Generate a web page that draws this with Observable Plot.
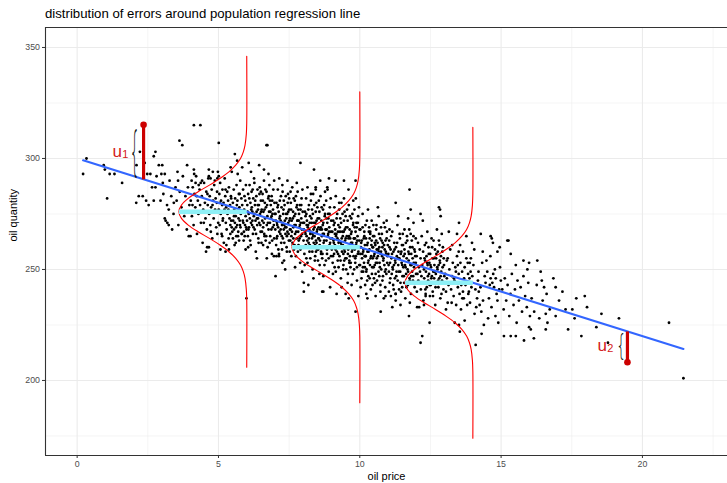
<!DOCTYPE html>
<html><head><meta charset="utf-8">
<script src="https://cdn.jsdelivr.net/npm/d3@7"></script>
<script src="https://cdn.jsdelivr.net/npm/@observablehq/plot@0.6"></script>
<style>
html,body{margin:0;padding:0;background:#fff;}
#wrap{position:relative;width:727px;height:483px;overflow:hidden;background:#fff;font-family:"Liberation Sans",Arial,Helvetica,sans-serif;}
#title{position:absolute;left:45px;top:0;line-height:27px;font-size:13.2px;color:#000;white-space:nowrap;z-index:2;}
#chart{position:absolute;left:0;top:20px;z-index:1;}
</style></head><body>
<div id="wrap"><div id="title">distribution of errors around population regression line</div><div id="chart"></div></div>
<script>
// ---- data ----
const xTicks = [0, 5, 10, 15, 20];
const yTicks = [200, 250, 300, 350];
const xMinor = [2.5, 7.5, 12.5, 17.5, 22.5];
const yMinor = [175, 225, 275, 325];
const xDomain = [-1.12, 23.01];
const yDomain = [166.2, 359.0];

// population regression line (end points)
const lineX = [0.21, 21.45];
const lineY = [299.2, 214.2];

// error distributions drawn at three prices
const curveX = [6, 10, 14];
const curveMean = [276, 260, 244];
const cyanFrom = [3.6, 7.6, 11.6];
const curveDy = [-70,-40,-35,-30,-27,-24,-21,-18,-15,-12,-9,-6,-3,0,3,6,9,12,15,18,21,24,27,30,35,40,70];
const curveDx = [0,0,0.015,0.06,0.12,0.22,0.39,0.63,0.95,1.32,1.72,2.07,2.31,2.40,2.31,2.07,1.72,1.32,0.95,0.63,0.39,0.22,0.12,0.06,0.015,0,0];

// highlighted errors u1, u2
const residX = [2.35, 19.47];
const fittedY = [290.6, 222.1];
const obsY = [315.2, 208.2];
const braceX = [2.03, 19.24];
const braceY = [302.9, 215.3];
const braceScale = [3.2, 1.75];
const labelX = [1.42, 18.58];
const labelY = [303.2, 215.9];
const subX = [1.70, 18.86];
const subY = [301.8, 214.3];
const subText = ["1", "2"];

// sample (oil price, oil quantity)
const sampleEdge = [[0.33,300],[0.21,293],[0.94,297],[0.98,295],[1.15,293],[1.32,293],[1.59,289],[1.06,282],[2.09,280],[2.18,283],[2.32,283],[2.44,281],[2.53,279],[2.71,281],[2.95,281],[2.22,303],[2.10,297],[2.39,298],[2.77,303],[2.71,301],[2.89,297],[3.01,297],[2.48,293],[2.59,293],[2.98,293],[3.10,293],[2.81,292],[2.65,287],[2.77,287],[3.03,289],[3.42,280],[3.24,277],[3.10,273],[3.13,272],[3.24,270],[3.19,271],[3.36,268],[4.13,315],[4.36,315],[3.62,308],[3.72,306],[5.01,307],[6.73,306],[5.58,302],[5.66,299],[3.89,297],[4.13,295],[4.66,295],[4.80,294],[4.98,294],[5.43,296],[5.84,296],[6.07,298],[7.90,298],[3.57,290],[4.05,290],[4.19,289],[4.30,288],[4.42,290],[4.66,292],[4.72,291],[4.96,291],[5.01,292],[3.95,265],[4.60,260],[4.01,265],[4.66,260],[5.07,259],[5.25,258],[5.37,259],[5.99,237],[5.96,259],[7.02,247],[7.26,253],[7.14,256],[6.96,256],[7.96,249],[8.02,244],[8.02,240],[4.96,266],[5.13,265],[8.38,295],[8.91,291],[9.14,290],[9.44,290],[9.85,290],[8.44,287],[8.85,287],[11.76,286],[11.27,280],[11.80,277],[12.15,275],[12.23,272],[8.67,240],[9.50,239],[9.61,237],[9.85,231],[10.27,237],[10.74,231],[10.91,238],[11.03,240],[11.27,239],[11.74,229],[12.03,233],[12.27,234],[12.33,238],[12.47,226],[12.21,220],[12.15,217],[14.10,216],[12.84,277],[13.51,271],[14.28,266],[6.70,306],[6.61,295],[8.71,240],[12.80,278],[12.86,274],[14.67,264],[14.71,262],[15.26,263],[15.34,257],[14.95,260],[14.87,258],[15.79,254],[15.99,253],[16.28,254],[15.93,250],[16.44,245],[16.52,242],[16.93,242],[17.17,240],[16.58,230],[16.64,226],[16.58,223],[16.02,229],[16.05,223],[16.16,219],[15.81,218],[15.10,220],[15.34,220],[14.31,221],[17.37,223],[17.52,232],[17.66,237],[17.96,238],[18.04,233],[17.84,220],[18.37,224],[18.55,230],[19.17,228],[18.78,217],[20.94,226],[21.45,201],[17.28,232],[13.54,222],[13.51,225],[15.52,220],[15.99,224],[14.63,265],[15.22,263]];

const sampleLeft = [[3.05,284],[3.18,279],[3.27,290],[3.33,283],[3.41,275],[3.48,287],[3.52,281],[3.58,270],[3.63,285],[3.69,278],[3.74,292],[3.79,274],[3.83,283],[3.88,268],[3.92,287],[3.97,279],[3.55,294],[3.86,276],
[4.02,281],[4.06,274],[4.09,287],[4.12,270],[4.15,284],[4.18,278],[4.21,292],[4.24,266],[4.27,281],[4.29,275],[4.33,286],[4.35,279],[4.38,271],[4.41,283],[4.44,262],[4.46,277],[4.49,289],[4.52,280],[4.54,273],[4.57,285],[4.59,268],[4.62,279],[4.64,291],[4.67,275],[4.69,283],[4.71,270],[4.74,278],[4.76,286],[4.78,264],[4.81,281],[4.83,273],[4.85,288],[4.88,277],[4.90,282],[4.92,269],[4.95,285],[4.97,276],[4.99,271],[4.08,279],[4.23,283],[4.37,289],[4.48,271],[4.61,284],[4.73,267],[4.87,290],[4.94,280],[4.31,276],[4.56,258],[4.79,279],[4.14,293],
[5.01,277],[5.03,284],[5.04,270],[5.06,289],[5.08,275],[5.09,281],[5.11,266],[5.13,279],[5.14,286],[5.16,273],[5.18,280],[5.19,262],[5.21,277],[5.22,291],[5.24,283],[5.26,271],[5.27,278],[5.29,268],[5.31,285],[5.32,275],[5.34,281],[5.36,264],[5.37,287],[5.39,273],[5.41,279],[5.42,270],[5.44,283],[5.46,276],[5.47,294],[5.49,267],[5.51,280],[5.52,272],[5.54,286],[5.56,277],[5.57,261],[5.59,282],[5.61,274],[5.62,269],[5.64,288],[5.66,276],[5.67,281],[5.69,265],[5.71,273],[5.72,284],[5.74,278],[5.76,270],[5.77,290],[5.79,275],[5.81,282],[5.82,266],[5.84,279],[5.86,272],[5.87,286],[5.89,263],[5.91,277],[5.92,283],[5.94,270],[5.96,274],[5.97,288],[5.99,268],
[5.42,266],[5.47,269],[5.51,264],[5.55,268],[5.58,271],[5.63,265],[5.66,270],[5.70,267],[5.73,263],[5.78,269],[5.83,266],[5.88,271],[5.93,265],[5.98,269],[5.45,272],[5.61,262],[5.75,272],[5.90,267],
[5.05,280],[5.15,272],[5.25,286],[5.35,277],[5.45,282],[5.55,274],[5.65,279],[5.75,284],[5.85,276],[5.95,281],[5.28,261],[5.68,293]];

const sampleMid = [[6.01,272],[6.02,279],[6.04,265],[6.05,284],[6.07,275],[6.08,269],[6.10,288],[6.11,273],[6.13,280],[6.14,261],[6.16,277],[6.17,285],[6.19,270],[6.20,276],[6.22,266],[6.23,282],[6.25,274],[6.26,291],[6.28,268],[6.29,279],[6.31,272],[6.32,258],[6.34,283],[6.35,276],[6.37,270],[6.38,286],[6.40,273],[6.41,264],[6.43,279],[6.44,271],[6.46,287],[6.47,275],[6.49,267],[6.50,281],[6.52,262],[6.53,277],[6.55,272],[6.56,284],[6.58,269],[6.59,276],[6.61,290],[6.62,266],[6.64,280],[6.65,273],[6.67,263],[6.68,278],[6.70,285],[6.71,270],[6.73,274],[6.74,260],[6.76,282],[6.77,268],[6.79,276],[6.80,288],[6.82,271],[6.83,265],[6.85,279],[6.86,273],[6.88,283],[6.89,257],[6.91,275],[6.92,269],[6.94,286],[6.95,272],[6.97,264],[6.98,280],
[6.03,276],[6.06,268],[6.09,282],[6.12,263],[6.15,271],[6.18,278],[6.21,286],[6.24,269],[6.27,275],[6.30,281],[6.33,266],[6.36,273],[6.39,279],[6.42,262],[6.45,284],[6.48,270],[6.51,276],[6.54,267],[6.57,281],[6.60,271],[6.63,277],[6.66,286],[6.69,265],[6.72,279],[6.75,271],[6.78,283],[6.81,262],[6.84,276],[6.87,268],[6.90,281],[6.93,277],[6.96,270],[6.99,275],[6.15,294],[6.44,297],[6.36,255],[6.58,261],[6.77,293],[6.90,263],[6.05,260],[6.27,289],[6.50,285],[6.71,255],[6.82,281],[6.97,290],[6.20,272],[6.63,265],[6.40,277],[6.88,274],
[7.01,268],[7.02,275],[7.04,261],[7.05,280],[7.07,271],[7.08,265],[7.10,286],[7.11,269],[7.13,276],[7.14,257],[7.16,273],[7.17,281],[7.19,266],[7.20,272],[7.22,262],[7.23,278],[7.25,270],[7.26,288],[7.28,264],[7.29,275],[7.31,268],[7.32,254],[7.34,279],[7.35,272],[7.37,266],[7.38,283],[7.40,269],[7.41,260],[7.43,275],[7.44,267],[7.46,284],[7.47,271],[7.49,263],[7.50,277],[7.52,258],[7.53,273],[7.55,268],[7.56,280],[7.58,265],[7.59,272],[7.61,287],[7.62,262],[7.64,276],[7.65,269],[7.67,259],[7.68,274],[7.70,281],[7.71,266],[7.73,270],[7.74,256],[7.76,278],[7.77,264],[7.79,272],[7.80,285],[7.82,267],[7.83,261],[7.85,275],[7.86,269],[7.88,279],[7.89,253],[7.91,271],[7.92,265],[7.94,282],[7.95,268],[7.97,260],[7.98,276],
[7.03,272],[7.06,264],[7.09,278],[7.12,259],[7.15,267],[7.18,274],[7.21,283],[7.24,265],[7.27,271],[7.30,277],[7.33,262],[7.36,269],[7.39,275],[7.42,258],[7.45,280],[7.48,266],[7.51,272],[7.54,263],[7.57,277],[7.60,267],[7.63,273],[7.66,282],[7.69,261],[7.72,275],[7.75,267],[7.78,279],[7.81,258],[7.84,272],[7.87,264],[7.90,277],[7.93,273],[7.96,266],[7.99,271],[7.15,291],[7.44,290],[7.36,250],[7.58,256],[7.77,289],[7.90,259],[7.05,256],[7.27,285],[7.50,282],[7.71,251],[7.82,277],[7.97,286],[7.20,268],[7.63,261],[7.40,273],[7.88,270],[7.11,279],[7.33,270],[7.55,285],[7.69,270],[7.84,263],[7.25,259],[7.47,276],[7.65,264],[7.93,279],[7.08,270],[7.53,268],[7.80,272],[7.31,281],[7.74,283],[7.42,265]];

const sampleCenter = [[8.01,263],[8.03,271],[8.04,257],[8.06,276],[8.07,267],[8.09,261],[8.10,282],[8.12,265],[8.13,272],[8.15,253],[8.16,269],[8.18,277],[8.19,262],[8.21,268],[8.22,258],[8.24,274],[8.25,266],[8.27,284],[8.28,260],[8.30,271],[8.31,264],[8.33,250],[8.34,275],[8.36,268],[8.37,262],[8.39,279],[8.40,265],[8.42,256],[8.43,271],[8.45,263],[8.46,280],[8.48,267],[8.49,259],[8.51,273],[8.52,254],[8.54,269],[8.55,264],[8.57,276],[8.58,261],[8.60,268],[8.61,283],[8.63,258],[8.64,272],[8.66,265],[8.67,255],[8.69,270],[8.70,277],[8.72,262],[8.73,266],[8.75,252],[8.76,274],[8.78,260],[8.79,268],[8.81,281],[8.82,263],[8.84,257],[8.85,271],[8.87,265],[8.88,275],[8.90,249],[8.91,267],[8.93,261],[8.94,278],[8.96,264],[8.98,256],[8.99,272],
[8.02,268],[8.05,260],[8.08,274],[8.11,255],[8.14,263],[8.17,270],[8.20,279],[8.23,261],[8.26,267],[8.29,273],[8.32,258],[8.35,265],[8.38,271],[8.41,254],[8.44,276],[8.47,262],[8.50,268],[8.53,259],[8.56,273],[8.59,263],[8.62,269],[8.65,278],[8.68,257],[8.71,271],[8.74,263],[8.77,275],[8.80,254],[8.83,268],[8.86,260],[8.89,273],[8.92,269],[8.95,262],[8.98,267],[8.15,287],[8.44,286],[8.36,246],[8.58,252],[8.77,285],[8.90,255],[8.05,252],[8.27,281],[8.50,278],[8.71,247],[8.82,273],[8.97,282],[8.20,264],[8.63,257],[8.40,269],[8.88,266],[8.11,275],[8.33,266],[8.55,281],[8.69,266],[8.84,259],[8.25,255],[8.47,272],[8.65,260],[8.93,275],[8.08,266],[8.53,264],[8.80,268],[8.31,277],[8.74,279],[8.42,261],[8.18,243],[8.60,290],[8.95,242],[8.35,284],[8.86,286],[8.57,248],[8.12,270],[8.66,268],[8.45,258],[8.23,271],
[9.01,259],[9.03,267],[9.04,253],[9.06,272],[9.07,263],[9.09,257],[9.10,278],[9.12,261],[9.13,268],[9.15,249],[9.16,265],[9.18,273],[9.19,258],[9.21,264],[9.22,254],[9.24,270],[9.25,262],[9.27,280],[9.28,256],[9.30,267],[9.31,260],[9.33,246],[9.34,271],[9.36,264],[9.37,258],[9.39,275],[9.40,261],[9.42,252],[9.43,267],[9.45,259],[9.46,276],[9.48,263],[9.49,255],[9.51,269],[9.52,250],[9.54,265],[9.55,260],[9.57,272],[9.58,257],[9.60,264],[9.61,279],[9.63,254],[9.64,268],[9.66,261],[9.67,251],[9.69,266],[9.70,273],[9.72,258],[9.73,262],[9.75,248],[9.76,270],[9.78,256],[9.79,264],[9.81,277],[9.82,259],[9.84,253],[9.85,267],[9.87,261],[9.88,271],[9.90,245],[9.91,263],[9.93,257],[9.94,274],[9.96,260],[9.98,252],[9.99,268],
[9.02,264],[9.05,256],[9.08,270],[9.11,251],[9.14,259],[9.17,266],[9.20,275],[9.23,257],[9.26,263],[9.29,269],[9.32,254],[9.35,261],[9.38,267],[9.41,250],[9.44,272],[9.47,258],[9.50,264],[9.53,255],[9.56,269],[9.59,259],[9.62,265],[9.65,274],[9.68,253],[9.71,267],[9.74,259],[9.77,271],[9.80,250],[9.83,264],[9.86,256],[9.89,269],[9.92,265],[9.95,258],[9.98,263],[9.15,283],[9.44,282],[9.36,242],[9.58,248],[9.77,281],[9.90,251],[9.05,248],[9.27,277],[9.50,274],[9.71,243],[9.82,269],[9.97,278],[9.20,260],[9.63,253],[9.40,265],[9.88,262],[9.11,271],[9.33,262],[9.55,277],[9.69,262],[9.84,255],[9.25,251],[9.47,268],[9.65,256],[9.93,271],[9.08,262],[9.53,260],[9.80,264],[9.31,273],[9.74,275],[9.42,257],[9.18,239],[9.60,286],[9.95,238],[9.35,280],[9.86,282],[9.57,244],[9.12,266],[9.66,264],[9.45,254],[9.23,267]];

const sampleRight = [[10.99,261],[10.97,253],[10.96,267],[10.94,248],[10.93,257],[10.91,263],[10.90,242],[10.88,259],[10.87,252],[10.85,271],[10.84,255],[10.82,247],[10.81,262],[10.79,256],[10.78,266],[10.76,250],[10.75,258],[10.73,240],[10.72,264],[10.70,253],[10.69,260],[10.67,274],[10.66,249],[10.64,256],[10.63,262],[10.61,245],[10.60,259],[10.58,268],[10.57,253],[10.55,261],[10.54,244],[10.52,257],[10.51,265],[10.49,251],[10.48,270],[10.46,255],[10.45,260],[10.43,248],[10.42,263],[10.40,256],[10.39,241],[10.37,266],[10.36,252],[10.34,259],[10.33,269],[10.31,254],[10.30,247],[10.28,262],[10.27,258],[10.25,272],[10.24,250],[10.22,264],[10.21,256],[10.19,243],[10.18,261],[10.16,267],[10.15,253],[10.13,259],[10.12,249],[10.10,275],[10.09,257],[10.07,263],[10.06,246],[10.04,260],[10.02,268],[10.01,252],
[10.98,256],[10.95,264],[10.92,250],[10.89,269],[10.86,261],[10.83,254],[10.80,245],[10.77,263],[10.74,257],[10.71,251],[10.68,266],[10.65,259],[10.62,253],[10.59,270],[10.56,248],[10.53,262],[10.50,256],[10.47,265],[10.44,251],[10.41,261],[10.38,255],[10.35,246],[10.32,267],[10.29,253],[10.26,261],[10.23,249],[10.20,270],[10.17,256],[10.14,264],[10.11,251],[10.08,255],[10.05,262],[10.02,257],[10.85,237],[10.56,238],[10.64,278],[10.42,272],[10.23,239],[10.10,269],[10.95,272],[10.73,243],[10.50,246],[10.29,277],[10.18,251],[10.03,242],[10.80,260],[10.37,267],[10.60,255],[10.12,258],[10.89,249],[10.67,258],[10.45,243],[10.31,258],[10.16,265],[10.75,269],[10.53,252],[10.35,264],[10.07,249],[10.92,258],[10.47,260],[10.20,256],[10.69,247],[10.26,245],[10.58,263],
[11.01,257],[11.03,249],[11.04,263],[11.06,244],[11.07,253],[11.09,259],[11.10,238],[11.12,255],[11.13,248],[11.15,267],[11.16,251],[11.18,243],[11.19,258],[11.21,252],[11.22,262],[11.24,246],[11.25,254],[11.27,236],[11.28,260],[11.30,249],[11.31,256],[11.33,270],[11.34,245],[11.36,252],[11.37,258],[11.39,241],[11.40,255],[11.42,264],[11.43,249],[11.45,257],[11.46,240],[11.48,253],[11.49,261],[11.51,247],[11.52,266],[11.54,251],[11.55,256],[11.57,244],[11.58,259],[11.60,252],[11.61,237],[11.63,262],[11.64,248],[11.66,255],[11.67,265],[11.69,250],[11.70,243],[11.72,258],[11.73,254],[11.75,268],[11.76,246],[11.78,260],[11.79,252],[11.81,239],[11.82,257],[11.84,263],[11.85,249],[11.87,255],[11.88,245],[11.90,271],[11.91,253],[11.93,259],[11.94,242],[11.96,256],[11.98,264],[11.99,248],
[11.02,252],[11.05,260],[11.08,246],[11.11,265],[11.14,257],[11.17,250],[11.20,241],[11.23,259],[11.26,253],[11.29,247],[11.32,262],[11.35,255],[11.38,249],[11.41,266],[11.44,244],[11.47,258],[11.50,252],[11.53,261],[11.56,247],[11.59,257],[11.62,251],[11.65,242],[11.68,263],[11.71,249],[11.74,257],[11.77,245],[11.80,266],[11.83,252],[11.86,260],[11.89,247],[11.92,251],[11.95,258],[11.98,253],[11.15,233],[11.44,234],[11.36,274],[11.58,268],[11.77,235],[11.90,265],[11.05,268],[11.27,239],[11.50,242],[11.71,273],[11.82,247]];

const sampleFar = [[12.99,247],[12.97,255],[12.96,241],[12.94,260],[12.93,251],[12.91,245],[12.90,266],[12.88,249],[12.87,256],[12.85,237],[12.84,253],[12.82,261],[12.81,246],[12.79,252],[12.78,242],[12.76,258],[12.75,250],[12.73,268],[12.72,244],[12.70,255],[12.69,248],[12.67,234],[12.66,259],[12.64,252],[12.63,246],[12.61,263],[12.60,249],[12.58,240],[12.57,255],[12.55,247],[12.54,264],[12.52,251],[12.51,243],[12.49,257],[12.48,238],[12.46,253],[12.45,248],[12.43,260],[12.42,245],[12.40,252],[12.39,267],[12.37,242],[12.36,256],[12.34,249],[12.33,239],[12.31,254],[12.30,261],[12.28,246],[12.27,250],[12.25,236],[12.24,258],[12.22,244],[12.21,252],[12.19,265],[12.18,247],[12.16,241],[12.15,255],[12.13,249],[12.12,259],[12.10,233],[12.09,251],[12.07,245],[12.06,262],[12.04,248],[12.02,240],[12.01,256],
[12.98,252],[12.95,244],[12.92,258],[12.89,239],[12.86,247],[12.83,254],[12.80,263],[12.77,245],[12.74,251],[12.71,257],[12.68,242],[12.65,249],[12.62,255],[12.59,238],[12.56,260],[12.53,246],[12.50,252],[12.47,243],[12.44,257],[12.41,247],[12.38,253],[12.35,262],[12.32,241],[12.29,255],
[13.02,248],[13.05,240],[13.08,254],[13.11,235],[13.14,243],[13.17,250],[13.20,259],[13.23,241],[13.26,247],[13.29,253],[13.32,238],[13.35,245],[13.38,251],[13.41,234],[13.44,256],[13.47,242],[13.50,248],[13.53,239],[13.56,253],[13.59,243],[13.62,249],[13.65,258],[13.68,237],[13.71,251],[13.74,243],[13.77,255],[13.80,234],[13.83,248],[13.86,240],[13.89,253],[13.92,249],[13.95,242],[13.98,247],[13.15,267],[13.44,266],[13.36,226],[13.58,232],[13.77,265],[13.90,235],[13.05,232],[13.27,261],[13.50,258],[13.71,227],[13.82,253],[13.97,262],[13.20,244],[13.63,237],[13.40,249],[13.88,246],[13.11,255],[13.33,246],[13.55,261],[13.69,246],[13.84,239],[13.25,235],[13.47,252],[13.65,240],[13.93,255],[13.08,246],[13.53,244],
[14.99,245],[14.96,251],[14.93,241],[14.90,226],[14.87,236],[14.84,239],[14.81,246],[14.78,250],[14.75,242],[14.72,248],[14.69,244],[14.66,233],[14.63,246],[14.60,243],[14.57,237],[14.54,228],[14.51,249],[14.48,254],[14.45,244],[14.42,247],[14.39,225],[14.36,236],[14.33,253],[14.30,231],[14.27,242],[14.24,234],[14.21,240],[14.18,245],[14.15,237],[14.12,233],[14.09,241],[14.06,230],[14.02,252],[14.35,258],[14.62,256],[14.05,259],[14.80,229],[14.20,249],
[15.04,241],[15.09,232],[15.13,246],[15.18,236],[15.23,243],[15.29,229],[15.33,239],[15.38,248],[15.44,234],[15.49,241],[15.55,226],[15.58,245],[15.63,236],[15.69,242],[15.74,231],[15.79,247],[15.85,238],[15.91,233],[15.96,244],[15.52,252],
[16.08,237],[16.17,231],[16.26,243],[16.35,228],[16.47,236],[16.61,239],[16.72,232],[16.85,246],[16.93,229],[16.40,249],[17.05,236],[17.60,228]];

// ---- build tables ----
const points = [...sampleEdge, ...sampleLeft, ...sampleMid, ...sampleCenter, ...sampleRight, ...sampleFar].map(([x, y]) => ({x, y}));
const regLine = lineX.map((x, i) => ({x, y: lineY[i]}));
const curves = curveX.flatMap((cx, i) => curveDy.map((dy, j) => ({x: cx - curveDx[j], y: curveMean[i] + dy, k: i})));
const cyan = curveX.map((cx, i) => ({x1: cyanFrom[i], x2: cx, y: curveMean[i]}));
const resid = residX.map((x, i) => ({x, y1: fittedY[i], y2: obsY[i]}));
const braces = braceX.map((x, i) => ({x, y: braceY[i]}));
const uMain = labelX.map((x, i) => ({x, y: labelY[i]}));
const uSub = subX.map((x, i) => ({x, y: subY[i], t: subText[i]}));

const FONT = '"Liberation Sans", Arial, Helvetica, sans-serif';
const plot = Plot.plot({
  width: 727, height: 463,
  marginLeft: 45, marginRight: 0, marginTop: 7, marginBottom: 28,
  x: {domain: xDomain, axis: null},
  y: {domain: yDomain, axis: null},
  style: {fontFamily: FONT, fontSize: "8.8px", background: "none", overflow: "visible"},
  marks: [
    Plot.ruleX(xMinor, {stroke: "#ebebeb", strokeWidth: 0.55}),
    Plot.ruleY(yMinor, {stroke: "#ebebeb", strokeWidth: 0.55}),
    Plot.ruleX(xTicks, {stroke: "#ebebeb", strokeWidth: 1.1}),
    Plot.ruleY(yTicks, {stroke: "#ebebeb", strokeWidth: 1.1}),
    Plot.dot(points, {x: "x", y: "y", r: 1.4, fill: "#000"}),
    Plot.line(regLine, {x: "x", y: "y", stroke: "#3366ff", strokeWidth: 2.1}),
    Plot.line(curves, {x: "x", y: "y", z: "k", stroke: "#ff0000", strokeWidth: 1.1, curve: "catmull-rom"}),
    Plot.link(cyan, {x1: "x1", x2: "x2", y1: "y", y2: "y", stroke: "#8ef0f6", strokeWidth: 4.5}),
    Plot.link(resid, {x1: "x", x2: "x", y1: "y1", y2: "y2", stroke: "#cc0000", strokeWidth: 3.2}),
    Plot.dot(resid, {x: "x", y: "y2", r: 3.3, fill: "#cc0000"}),
    Plot.text(braces, {x: "x", y: "y", text: () => "{", fontSize: 17, fontWeight: 200, fontFamily: "Inter, Roboto, 'Liberation Sans', sans-serif", fill: "#111"}),
    Plot.text(uMain, {x: "x", y: "y", text: () => "u", fontSize: 17, fill: "#d42020"}),
    Plot.text(uSub, {x: "x", y: "y", text: "t", fontSize: 11, fill: "#d42020"}),
    Plot.ruleX([xDomain[0]], {stroke: "#333333", strokeWidth: 1.1}),
    Plot.ruleY([yDomain[0], yDomain[1]], {stroke: "#333333", strokeWidth: 1.1}),
    Plot.axisX(xTicks, {tickSize: 3, tickPadding: 2, stroke: "#333333", fill: "#4d4d4d", label: null, fontSize: 8.8}),
    Plot.axisY(yTicks, {tickSize: 3, tickPadding: 2.5, stroke: "#333333", fill: "#4d4d4d", label: null, fontSize: 8.8}),
    Plot.text(["oil price"], {text: d => d, frameAnchor: "bottom", dy: 24, fontSize: 11, fill: "#000"}),
    Plot.text(["oil quantity"], {text: d => d, frameAnchor: "left", dx: -32, rotate: -90, fontSize: 11, fill: "#000"})
  ]
});

document.getElementById("chart").appendChild(plot);

// stretch the braces vertically about their own centre so each spans its error
let bi = 0;
plot.querySelectorAll("text").forEach((t) => {
  if (t.textContent !== "{") return;
  const s = braceScale[bi++];
  const bb = t.getBBox();
  const cx = bb.x + bb.width / 2, cy = bb.y + bb.height / 2;
  const tr = t.getAttribute("transform") || "";
  t.setAttribute("transform", `${tr} translate(${cx},${cy}) scale(1,${s}) translate(${-cx},${-cy})`);
});
</script></body></html>
